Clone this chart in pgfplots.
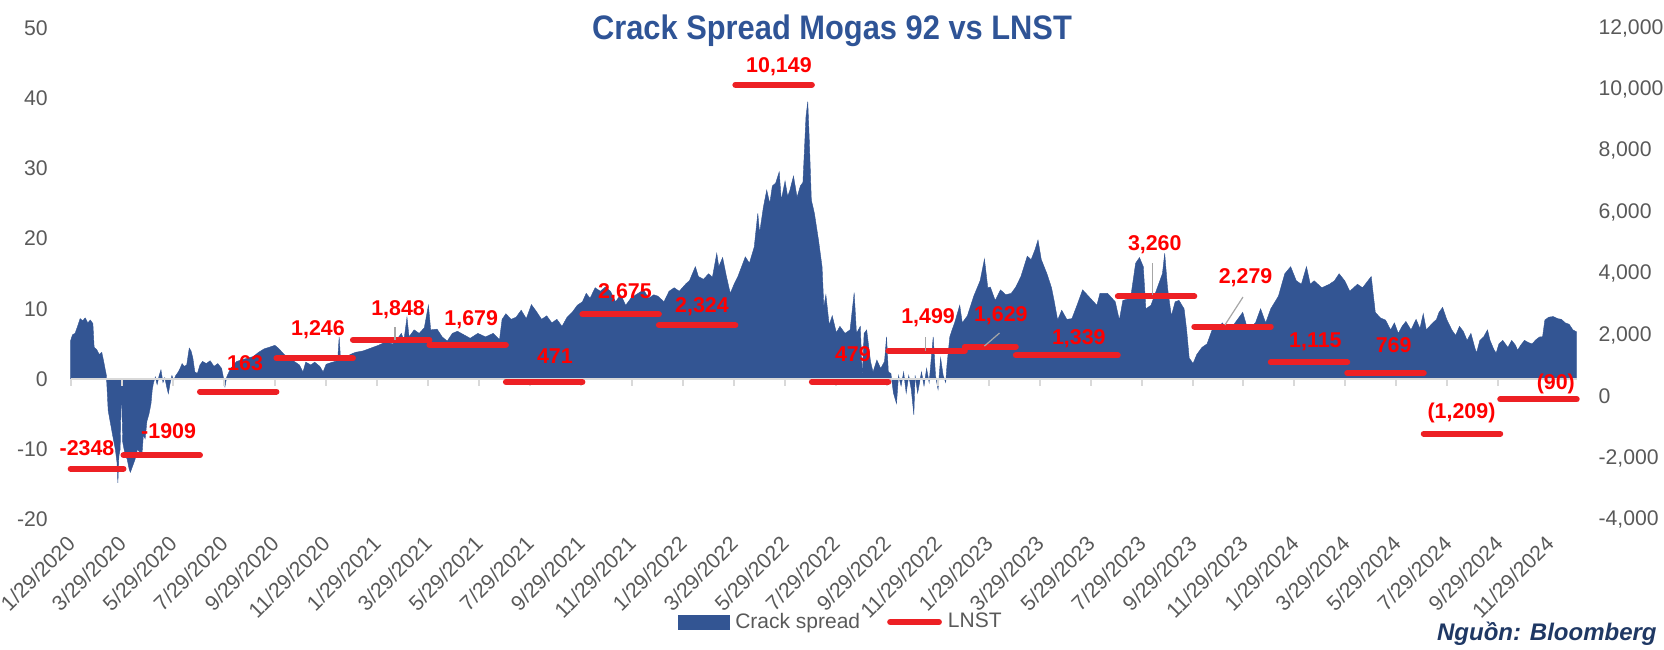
\documentclass[border=0pt]{standalone}
\usepackage{fontspec}
\setmainfont{Liberation Sans}
\usepackage{graphicx}
\usepackage{pgfplots}
\usepackage{pgfplotstable}
\pgfplotsset{compat=1.18}
\definecolor{areablue}{RGB}{51,85,147}
\definecolor{lnstred}{RGB}{237,32,36}
\definecolor{labred}{RGB}{255,0,0}
\definecolor{tickgray}{RGB}{89,89,89}
\definecolor{titleblue}{RGB}{47,84,150}
\definecolor{srcblue}{RGB}{31,56,100}
\definecolor{axgray}{RGB}{217,217,217}
\newcommand{\tickfont}{\fontsize{10.6}{12}\selectfont}
\newcommand{\labfont}{\fontsize{10.7}{12}\selectfont\bfseries}
\tikzset{lab/.style={text=labred, font=\labfont, inner sep=0pt},
         lead/.style={draw=gray!70, line width=0.6pt},
         lnst/.style={draw=lnstred, line width=3pt, line cap=round, mark=none, solid}}

\pgfplotstableread{
m v
0.93 5.5
1.00 6.3
1.10 6.5
1.20 7.5
1.30 8.6
1.40 8.3
1.50 8.7
1.60 8.0
1.70 8.4
1.80 7.9
1.85 4.5
1.95 4.2
2.05 3.5
2.15 3.8
2.25 2.0
2.33 0.5
2.40 -4.5
2.50 -6.5
2.60 -8.5
2.68 -10.0
2.75 -12.0
2.78 -14.8
2.82 -11.0
2.87 -10.0
2.92 -1.0
2.97 -9.0
3.05 -10.5
3.15 -11.5
3.22 -12.8
3.27 -13.3
3.35 -12.5
3.45 -11.5
3.55 -10.0
3.65 -10.5
3.72 -11.0
3.78 -8.0
3.85 -8.5
3.92 -6.0
4.00 -5.0
4.08 -3.5
4.13 -1.5
4.18 -0.5
4.25 0.3
4.32 -0.8
4.40 0.5
4.47 1.3
4.55 -0.5
4.62 0.2
4.70 -1.2
4.76 -2.1
4.82 -0.8
4.90 0.5
4.97 -0.2
5.05 0.5
5.15 1.0
5.22 1.5
5.30 2.2
5.38 1.8
5.48 2.0
5.58 4.4
5.65 4.0
5.72 3.0
5.80 1.0
5.90 0.8
6.00 2.0
6.10 2.5
6.25 2.2
6.40 2.6
6.55 1.8
6.70 2.2
6.85 1.5
6.92 0.2
6.98 -1.1
7.05 0.3
7.20 1.5
7.44 2.5
7.70 2.8
7.90 3.0
8.09 3.2
8.30 3.8
8.52 4.3
8.70 4.5
8.94 4.8
9.10 4.3
9.30 3.5
9.50 3.0
9.70 2.5
9.90 2.0
10.04 1.0
10.15 2.4
10.35 2.0
10.50 2.4
10.70 1.8
10.83 1.0
10.95 2.1
11.20 2.4
11.40 2.6
11.46 6.0
11.52 2.5
11.70 3.0
11.90 3.5
12.10 3.8
12.40 4.0
12.70 4.4
13.00 4.8
13.30 5.3
13.56 5.0
13.70 5.5
13.90 6.5
14.00 5.5
14.12 8.8
14.20 6.0
14.40 7.0
14.60 6.5
14.80 7.3
14.96 10.5
15.05 7.0
15.30 7.1
15.50 6.0
15.70 5.4
15.90 6.5
16.10 6.8
16.40 6.2
16.60 5.8
16.90 6.5
17.20 6.0
17.50 6.5
17.75 5.6
17.85 8.5
18.00 9.3
18.20 8.5
18.40 8.8
18.60 9.8
18.80 8.6
19.00 10.6
19.20 9.6
19.40 8.5
19.60 9.0
19.80 8.0
20.00 8.5
20.20 7.5
20.40 8.8
20.60 9.5
20.80 10.5
21.00 11.0
21.15 12.2
21.30 11.5
21.50 13.0
21.70 12.5
21.90 13.1
22.10 12.5
22.30 11.0
22.50 12.0
22.70 10.5
22.90 11.5
23.10 12.0
23.40 12.7
23.60 11.5
23.80 12.0
23.96 11.8
24.20 11.0
24.40 12.5
24.60 13.0
24.80 12.5
25.07 13.6
25.20 14.0
25.43 16.0
25.55 14.6
25.75 14.2
25.95 15.0
26.10 14.5
26.27 17.9
26.35 16.0
26.50 17.3
26.65 14.6
26.80 12.2
26.95 13.5
27.10 14.6
27.39 17.4
27.55 16.5
27.74 18.8
27.88 23.6
27.95 20.8
28.10 24.5
28.23 26.9
28.35 25.0
28.45 27.5
28.58 27.9
28.72 29.5
28.80 25.5
28.95 28.2
29.05 26.0
29.14 26.9
29.28 28.9
29.42 25.9
29.55 27.5
29.65 28.0
29.77 37.4
29.84 39.5
29.90 34.0
29.98 25.5
30.10 23.6
30.26 19.8
30.40 16.0
30.47 10.3
30.55 12.0
30.68 7.7
30.80 9.0
30.96 6.6
31.10 7.5
31.30 6.5
31.50 7.0
31.66 12.3
31.75 6.5
31.90 7.5
31.98 0.3
32.05 6.5
32.15 7.0
32.30 2.5
32.40 1.0
32.55 2.7
32.70 1.5
32.85 2.5
32.93 6.0
33.00 1.0
33.10 0.8
33.20 -2.0
33.32 -3.5
33.40 0.5
33.50 -1.0
33.60 1.0
33.70 -2.0
33.80 0.5
33.90 -1.5
34.00 -5.1
34.05 0.5
34.15 -2.0
34.30 1.0
34.40 -1.0
34.50 1.5
34.60 -0.5
34.76 6.0
34.85 0.5
34.95 -1.5
35.05 3.0
35.15 0.5
35.25 -0.5
35.30 2.0
35.41 6.0
35.50 7.0
35.60 8.0
35.80 10.5
35.90 8.0
36.10 9.0
36.35 11.8
36.60 14.0
36.77 17.1
36.90 13.0
37.00 13.1
37.19 11.2
37.40 12.7
37.60 12.0
37.82 12.2
38.00 13.1
38.20 14.6
38.45 17.5
38.60 17.0
38.75 18.4
38.87 19.8
39.00 17.0
39.22 15.0
39.40 13.0
39.50 11.2
39.64 8.4
39.80 9.8
40.00 8.5
40.20 8.6
40.40 10.5
40.62 12.7
40.80 12.0
41.00 11.2
41.18 10.5
41.30 12.2
41.60 12.2
41.90 11.0
42.06 8.4
42.20 11.2
42.50 11.5
42.70 16.5
42.85 17.3
43.00 16.0
43.10 10.0
43.30 10.5
43.60 13.5
43.75 15.0
43.84 17.9
43.95 13.0
44.10 9.0
44.25 11.0
44.40 11.2
44.60 10.0
44.70 7.0
44.80 3.0
44.95 2.2
45.10 3.5
45.30 4.5
45.50 5.0
45.70 7.0
45.90 7.0
46.10 8.0
46.30 7.0
46.50 7.5
46.90 9.5
47.10 7.0
47.40 8.0
47.60 10.0
47.80 8.0
48.00 10.0
48.30 11.8
48.55 15.0
48.78 16.0
49.00 14.0
49.20 13.5
49.40 16.0
49.55 13.5
49.70 14.0
50.00 13.0
50.30 13.5
50.50 14.0
50.68 15.0
50.90 14.0
51.10 12.5
51.40 13.5
51.60 13.0
51.94 14.6
52.10 9.5
52.30 8.7
52.50 8.4
52.70 7.0
52.85 8.0
53.00 6.5
53.15 7.5
53.30 8.2
53.50 7.0
53.70 8.5
53.85 7.2
53.98 9.3
54.10 7.0
54.30 7.8
54.50 8.5
54.60 9.5
54.74 10.2
54.90 8.5
55.10 7.0
55.25 6.2
55.40 7.5
55.55 6.8
55.70 5.5
55.85 6.5
56.00 4.5
56.07 3.7
56.20 5.5
56.35 6.0
56.50 7.0
56.60 5.5
56.75 4.2
56.84 3.7
56.95 5.0
57.10 5.5
57.30 4.5
57.45 5.5
57.60 4.8
57.68 4.1
57.80 4.8
57.95 5.5
58.10 5.2
58.25 5.0
58.40 5.6
58.55 6.0
58.66 6.0
58.75 8.4
58.90 8.8
59.08 8.9
59.25 8.6
59.40 8.5
59.55 8.0
59.70 7.8
59.85 7.0
60.00 6.7
}\crack

\begin{document}
\begin{tikzpicture}
\begin{axis}[
  at={(35.35pt,64.8pt)}, anchor=south west, scale only axis,
  width=753pt, height=245.7pt,
  xmin=0.93, xmax=60, ymin=-20, ymax=50,
  axis x line*=bottom, axis y line*=left, axis line style={draw=none},
  major tick length=0pt, clip=false,
  xtick={0.93,2.93,4.93,6.93,8.93,10.93,12.93,14.93,16.93,18.93,20.93,22.93,24.93,26.93,28.93,30.93,32.93,34.93,36.93,38.93,40.93,42.93,44.93,46.93,48.93,50.93,52.93,54.93,56.93,58.93},
  xticklabels={1/29/2020,3/29/2020,5/29/2020,7/29/2020,9/29/2020,11/29/2020,1/29/2021,3/29/2021,5/29/2021,7/29/2021,9/29/2021,11/29/2021,1/29/2022,3/29/2022,5/29/2022,7/29/2022,9/29/2022,11/29/2022,1/29/2023,3/29/2023,5/29/2023,7/29/2023,9/29/2023,11/29/2023,1/29/2024,3/29/2024,5/29/2024,7/29/2024,9/29/2024,11/29/2024},
  xticklabel style={xshift=-2.6pt, yshift=-7.3pt, rotate=45, anchor=north east, inner sep=0pt, font=\tickfont, text=tickgray},
  ytick={-20,-10,0,10,20,30,40,50},
  yticklabels={-20,-10,0,10,20,30,40,50},
  yticklabel style={anchor=east, inner sep=0pt, font=\tickfont, text=tickgray, xshift=-11.3pt},
  legend columns=2,
  legend style={at={(0.4029,-0.2088)}, anchor=west, draw=none, fill=none, inner sep=0pt,
    font=\fontsize{10.5}{12}\selectfont, text=tickgray, nodes={inner sep=0pt},
    /tikz/every odd column/.append style={column sep=3pt},
    /tikz/every even column/.append style={column sep=13.5pt}},
]
\addplot[fill=areablue, draw=areablue, line width=0.2pt,
  legend image code/.code={\fill[areablue] (0pt,-3.4pt) rectangle (25.5pt,3.4pt);}]
  table[x=m,y=v]{\crack} \closedcycle;
\addlegendentry{Crack spread}
\addlegendimage{legend image code/.code={\draw[lnstred,line width=3pt,line cap=round] (1.5pt,0pt) -- (25.9pt,0pt);}}
\addlegendentry{LNST}
\draw[axgray, line width=1pt] (axis cs:0.93,0) -- (axis cs:60,0);
\pgfplotsinvokeforeach{0.93,2.93,4.93,6.93,8.93,10.93,12.93,14.93,16.93,18.93,20.93,22.93,24.93,26.93,28.93,30.93,32.93,34.93,36.93,38.93,40.93,42.93,44.93,46.93,48.93,50.93,52.93,54.93,56.93,58.93}{
  \draw[axgray, line width=1pt] (axis cs:#1,0) -- ++(0pt,-3.3pt);
}
\end{axis}

\begin{axis}[
  at={(35.35pt,64.8pt)}, anchor=south west, scale only axis,
  width=753pt, height=245.7pt,
  xmin=0.93, xmax=60, ymin=-4000, ymax=12000,
  axis y line*=right, axis x line=none, axis line style={draw=none},
  major tick length=0pt, clip=false, scaled y ticks=false,
  ytick={-4000,-2000,0,2000,4000,6000,8000,10000,12000},
  yticklabels={{-4,000},{-2,000},{0},{2,000},{4,000},{6,000},{8,000},{10,000},{12,000}},
  yticklabel style={anchor=west, inner sep=0pt, font=\tickfont, text=tickgray, xshift=10.7pt},
]
\addplot[lnst] coordinates {(0.93,-2348) (3,-2348)};
\addplot[lnst] coordinates {(3,-1909) (6,-1909)};
\addplot[lnst] coordinates {(6,163) (9,163)};
\addplot[lnst] coordinates {(9,1246) (12,1246)};
\addplot[lnst] coordinates {(12,1848) (15,1848)};
\addplot[lnst] coordinates {(15,1679) (18,1679)};
\addplot[lnst] coordinates {(18,471) (21,471)};
\addplot[lnst] coordinates {(21,2675) (24,2675)};
\addplot[lnst] coordinates {(24,2324) (27,2324)};
\addplot[lnst] coordinates {(27,10149) (30,10149)};
\addplot[lnst] coordinates {(30,479) (33,479)};
\addplot[lnst] coordinates {(33,1499) (36,1499)};
\addplot[lnst] coordinates {(36,1629) (38,1629)};
\addplot[lnst] coordinates {(38,1339) (42,1339)};
\addplot[lnst] coordinates {(42,3260) (45,3260)};
\addplot[lnst] coordinates {(45,2279) (48,2279)};
\addplot[lnst] coordinates {(48,1115) (51,1115)};
\addplot[lnst] coordinates {(51,769) (54,769)};
\addplot[lnst] coordinates {(54,-1209) (57,-1209)};
\addplot[lnst] coordinates {(57,-90) (60,-90)};
\draw[lead] (axis cs:13.65,1848) -- (axis cs:13.65,2263);
\draw[lead] (axis cs:34.46,1499) -- (axis cs:34.46,1937);
\draw[lead] (axis cs:36.77,1644) -- (axis cs:37.36,2068);
\draw[lead] (axis cs:43.37,3305) -- (axis cs:43.37,4347);
\draw[lead] (axis cs:46.2,2328) -- (axis cs:46.91,3240);
\node[lab] at (axis cs:1.57,-1693) {-2348};
\node[lab] at (axis cs:4.77,-1140) {-1909};
\node[lab] at (axis cs:7.77,1081) {163};
\node[lab] at (axis cs:10.63,2165) {1,246};
\node[lab] at (axis cs:13.77,2817) {1,848};
\node[lab] at (axis cs:16.64,2491) {1,679};
\node[lab] at (axis cs:19.92,1302) {471};
\node[lab] at (axis cs:22.67,3370) {2,675};
\node[lab] at (axis cs:25.69,2924) {2,324};
\node[lab] at (axis cs:28.71,10739) {10,149};
\node[lab] at (axis cs:31.61,1384) {479};
\node[lab] at (axis cs:34.56,2572) {1,499};
\node[lab] at (axis cs:37.41,2631) {1,629};
\node[lab] at (axis cs:40.47,1872) {1,339};
\node[lab] at (axis cs:43.45,4933) {3,260};
\node[lab] at (axis cs:47.01,3868) {2,279};
\node[lab] at (axis cs:49.75,1784) {1,115};
\node[lab] at (axis cs:52.82,1677) {769};
\node[lab] at (axis cs:55.48,-537) {(1,209)};
\node[lab] at (axis cs:59.18,407) {(90)};
\end{axis}

\node[anchor=base, text=titleblue, font=\fontsize{17}{20}\selectfont\bfseries, inner sep=0pt]
  at (416pt,304.85pt) {\scalebox{0.907}[1]{Crack Spread Mogas 92 vs LNST}};
\node[anchor=base east, text=srcblue, font=\fontsize{12}{14}\selectfont\bfseries\itshape, inner sep=0pt]
  at (828.5pt,4.2pt) {Nguồn: Bloomberg};
\pgfresetboundingbox
\path (0pt,0pt) rectangle (832pt,324.5pt);
\end{tikzpicture}
\end{document}
